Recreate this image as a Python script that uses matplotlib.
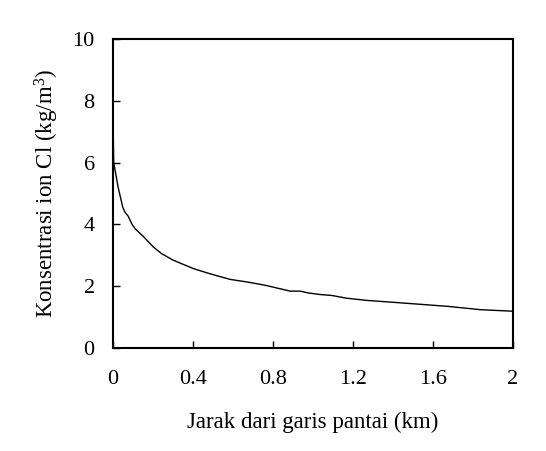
import matplotlib
matplotlib.use('Agg')
import matplotlib.pyplot as plt

# distance from shoreline (km) and Cl ion concentration (kg/m3)
jarak = [0, 0.005, 0.027, 0.05, 0.061, 0.078, 0.095, 0.112, 0.153, 0.203, 0.245,
         0.303, 0.403, 0.487, 0.587, 0.678, 0.762, 0.887, 0.937, 0.978, 1.037,
         1.095, 1.17, 1.27, 1.378, 1.503, 1.67, 1.837, 2.0]
konsentrasi = [8.0, 6.0, 5.21, 4.56, 4.40, 4.26, 4.02, 3.86, 3.61, 3.27, 3.05,
               2.84, 2.57, 2.40, 2.22, 2.13, 2.03, 1.84, 1.84, 1.78, 1.73,
               1.70, 1.61, 1.54, 1.49, 1.43, 1.35, 1.24, 1.19]
xticks = [0, 0.4, 0.8, 1.2, 1.6, 2]
xticklabels = ['0', '0.4', '0.8', '1.2', '1.6', '2']
yticks = [0, 2, 4, 6, 8, 10]

plt.rcParams['font.family'] = ['Liberation Serif', 'DejaVu Serif']
plt.rcParams['mathtext.fontset'] = 'custom'
plt.rcParams['mathtext.rm'] = 'Liberation Serif'
plt.rcParams['mathtext.it'] = 'Liberation Serif:italic'

fig = plt.figure(figsize=(5.46, 4.51), dpi=100)
ax = fig.add_axes([0.2064, 0.2284, 0.7332, 0.6851])

ax.plot(jarak, konsentrasi, color='black', linewidth=1.0)

ax.set_xlim(0, 2)
ax.set_ylim(0, 10)
ax.set_xticks(xticks)
ax.set_xticklabels(xticklabels)
ax.set_yticks(yticks)
ax.tick_params(direction='in', length=5, width=1, labelsize=16)
ax.tick_params(axis='x', pad=16)
ax.tick_params(axis='y', pad=13)
for s in ax.spines.values():
    s.set_linewidth(1.5)

ax.set_xlabel('Jarak dari garis pantai (km)', fontsize=16.5, labelpad=16)
ax.set_ylabel(r'Konsentrasi ion Cl (kg/m$^{3}$)', fontsize=16.5, labelpad=8)

fig.savefig('out.png', dpi=100)
